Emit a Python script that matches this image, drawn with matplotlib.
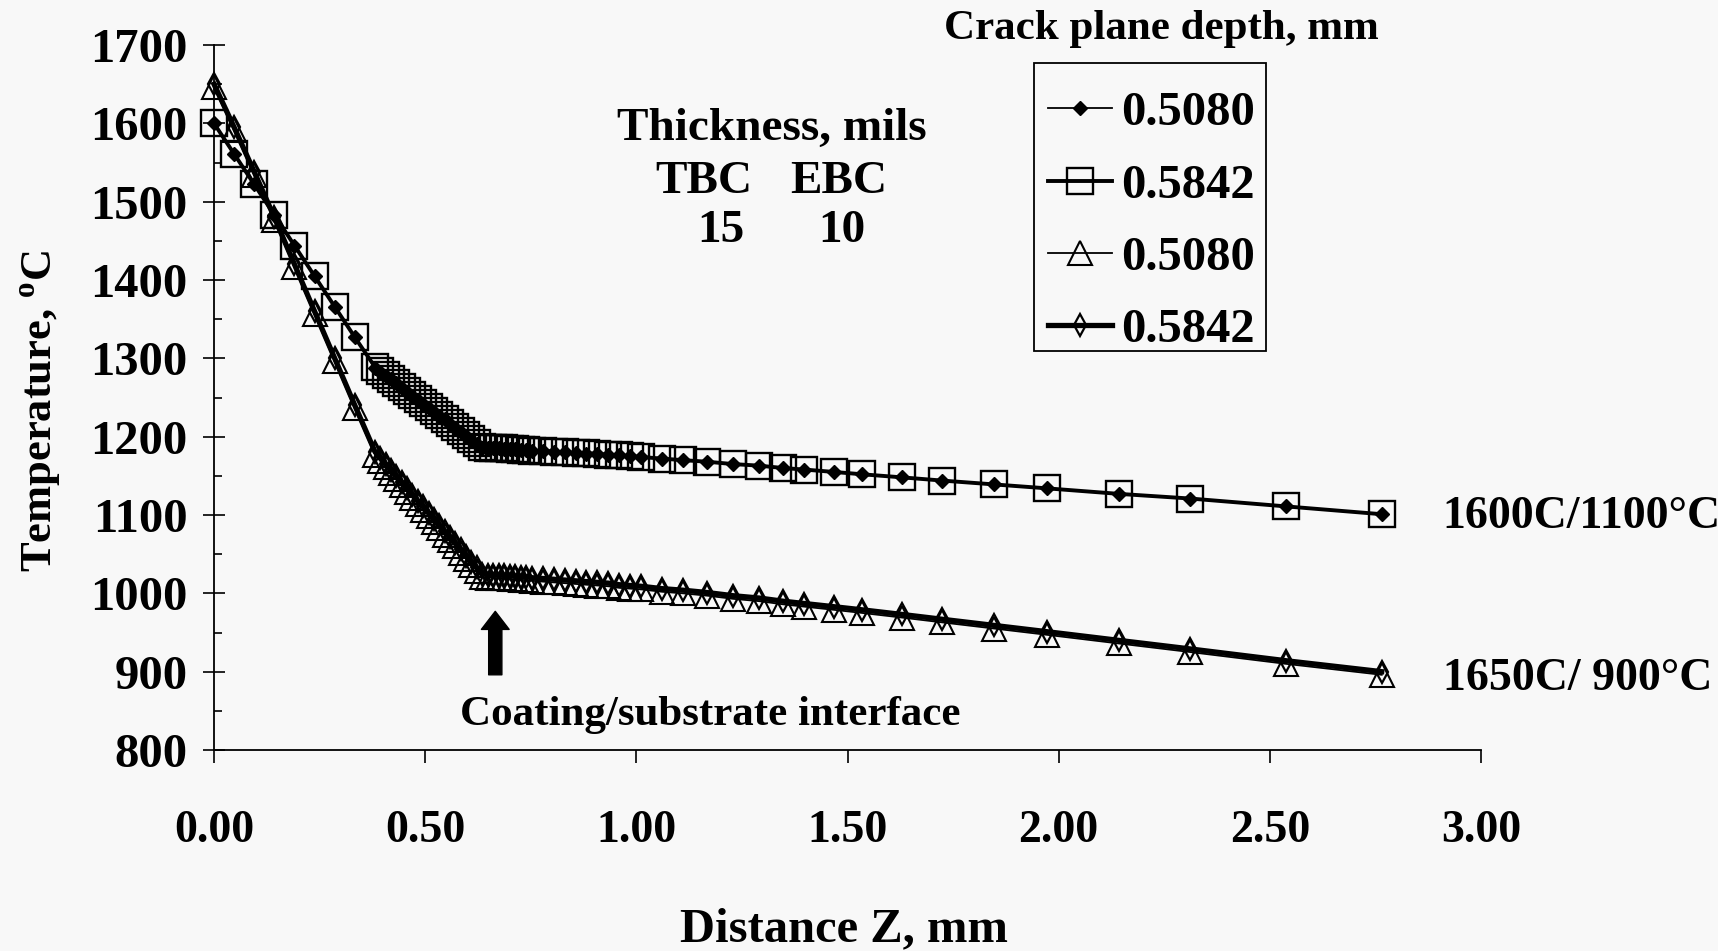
import numpy as np
import matplotlib.pyplot as plt
from matplotlib.patches import Rectangle
from matplotlib.ticker import MultipleLocator, FormatStrFormatter

plt.rcParams['font.family'] = ['Liberation Serif', 'DejaVu Serif']
plt.rcParams['font.weight'] = 'bold'
plt.rcParams['mathtext.fontset'] = 'custom'
plt.rcParams['mathtext.rm'] = 'Liberation Serif:bold'

# distance from the hot surface, mm (TBC layer, EBC layer, substrate)
z_tbc = [0.0, 0.0476, 0.0953, 0.1429, 0.1905, 0.2381, 0.2858, 0.3334, 0.381]
z_ebc = [0.3937, 0.4064, 0.4191, 0.4318, 0.4445, 0.4572, 0.4699, 0.4826, 0.4953, 0.508,
         0.5207, 0.5334, 0.5461, 0.5588, 0.5715, 0.5842, 0.5969, 0.6096, 0.6223, 0.635]
z_sub = [0.648, 0.661, 0.674, 0.687, 0.700, 0.713, 0.726, 0.739, 0.752,
         0.778, 0.804, 0.830, 0.856, 0.882, 0.908, 0.934, 0.960, 0.986, 1.012,
         1.061, 1.111, 1.168, 1.229, 1.291, 1.347, 1.398, 1.467, 1.534, 1.630,
         1.723, 1.848, 1.973, 2.142, 2.312, 2.538, 2.765]
z_mm = z_tbc + z_ebc + z_sub

# 1600C / 1100C case
temp_a = [1600, 1561, 1522, 1483, 1444, 1405, 1366, 1327, 1288,
          1283, 1278, 1273, 1268, 1262, 1257, 1252, 1247, 1242, 1237,
          1232, 1227, 1222, 1216, 1211, 1206, 1201, 1196, 1191, 1186,
          1186, 1185, 1185, 1184, 1184, 1184, 1183, 1183, 1182,
          1182, 1181, 1180, 1179, 1178, 1178, 1177, 1176, 1175, 1174,
          1172, 1170, 1168, 1165, 1163, 1160, 1158, 1155, 1152, 1148,
          1144, 1139, 1134, 1127, 1121, 1111, 1101]
temp_b = [1600, 1561, 1522, 1483, 1444, 1405, 1366, 1327, 1289,
          1284, 1279, 1274, 1268, 1263, 1258, 1253, 1248, 1243, 1238,
          1233, 1228, 1222, 1217, 1212, 1207, 1202, 1197, 1192, 1187,
          1186, 1186, 1185, 1185, 1184, 1184, 1183, 1183, 1182,
          1182, 1181, 1180, 1179, 1179, 1178, 1177, 1176, 1175, 1174,
          1172, 1170, 1168, 1165, 1163, 1160, 1158, 1155, 1152, 1148,
          1144, 1139, 1134, 1127, 1121, 1111, 1101]

# 1650C / 900C case
temp_c = [1646, 1591, 1534, 1476, 1416, 1356, 1296, 1236, 1177,
          1169, 1161, 1154, 1146, 1138, 1130, 1122, 1114, 1107, 1099,
          1091, 1083, 1075, 1068, 1060, 1052, 1044, 1036, 1029, 1021,
          1020, 1020, 1019, 1019, 1018, 1018, 1017, 1017, 1016,
          1015, 1014, 1013, 1012, 1011, 1010, 1009, 1007, 1006, 1005,
          1002, 1000, 997, 993, 990, 986, 983, 979, 975, 969,
          963, 955, 947, 936, 925, 910, 896]
temp_d = [1650, 1595, 1538, 1480, 1420, 1360, 1300, 1240, 1181,
          1173, 1165, 1158, 1150, 1142, 1134, 1126, 1118, 1111, 1103,
          1095, 1087, 1079, 1072, 1064, 1056, 1048, 1040, 1033, 1025,
          1024, 1024, 1023, 1023, 1022, 1022, 1021, 1021, 1020,
          1019, 1018, 1017, 1016, 1015, 1014, 1013, 1011, 1010, 1009,
          1006, 1004, 1001, 997, 994, 990, 987, 983, 979, 973,
          967, 959, 951, 940, 929, 914, 900]

depth_labels = ['0.5080', '0.5842', '0.5080', '0.5842']
x_ticks = [0.0, 0.5, 1.0, 1.5, 2.0, 2.5, 3.0]

W, H = 1718, 951
bg = '#f8f8f8'


def fpos(x, y):
    # pixel position (top-left origin) -> figure fraction
    return x / W, 1 - y / H


fig = plt.figure(figsize=(W / 100, H / 100), dpi=100, facecolor=bg)
ax = fig.add_axes([214 / W, 1 - 750 / H, 1267 / W, 705 / H], facecolor=bg)

l_b, = ax.plot(z_mm, temp_b, color='k', lw=2.8, marker='s', ms=18.5, mfc='none',
               mec='k', mew=1.7, clip_on=False, zorder=3)
l_a, = ax.plot(z_mm, temp_a, color='k', lw=1.3, marker='D', ms=7, mfc='k',
               mec='k', clip_on=False, zorder=4)
l_c, = ax.plot(z_mm, temp_c, color='k', lw=1.3, marker='^', ms=17.5, mfc='none',
               mec='k', mew=1.5, clip_on=False, zorder=3)
l_d, = ax.plot(z_mm, temp_d, color='k', lw=3.8, marker='d', ms=11, mfc='none',
               mec='k', mew=1.6, clip_on=False, zorder=4)

ax.set_xlim(0, 3)
ax.set_ylim(800, 1700)
ax.set_xticks(x_ticks)
ax.xaxis.set_major_formatter(FormatStrFormatter('%.2f'))
ax.yaxis.set_major_locator(MultipleLocator(100))
ax.yaxis.set_minor_locator(MultipleLocator(50))
ax.tick_params(axis='x', direction='out', length=9, width=1.2, pad=34, labelsize=33)
ax.tick_params(axis='y', which='major', direction='inout', length=16, width=1.2,
               pad=11, labelsize=35)
ax.tick_params(axis='y', which='minor', direction='in', length=6, width=1.2)
for side in ['top', 'right']:
    ax.spines[side].set_visible(False)
for side in ['left', 'bottom']:
    ax.spines[side].set_linewidth(1.3)

# legend entries without frame, box drawn separately, title above the box
leg = ax.legend([l_a, l_b, l_c, l_d], depth_labels, loc='upper left',
                bbox_to_anchor=fpos(1029, 72), bbox_transform=fig.transFigure,
                frameon=False, fontsize=35, handlelength=1.3, handletextpad=0.2,
                borderpad=0.4, labelspacing=0.58, borderaxespad=0, numpoints=1)
box_x0, box_y0 = fpos(1034, 351)
fig.add_artist(Rectangle((box_x0, box_y0), 232 / W, 288 / H, transform=fig.transFigure,
                         fill=False, edgecolor='k', lw=1.3))
fig.text(*fpos(1161, 39), 'Crack plane depth, mm', ha='center', va='baseline', fontsize=31)

fig.text(*fpos(772, 140), 'Thickness, mils', ha='center', va='baseline', fontsize=34)
fig.text(*fpos(704, 193), 'TBC', ha='center', va='baseline', fontsize=34)
fig.text(*fpos(839, 193), 'EBC', ha='center', va='baseline', fontsize=34)
fig.text(*fpos(721, 242), '15', ha='center', va='baseline', fontsize=34)
fig.text(*fpos(842, 242), '10', ha='center', va='baseline', fontsize=34)

fig.text(*fpos(1442, 528), '1600C/1100°C', ha='left', va='baseline', fontsize=33)
fig.text(*fpos(1443, 690), '1650C/ 900°C', ha='left', va='baseline', fontsize=33)

ax.annotate('', xy=(0.666, 977), xytext=(0.666, 896),
            arrowprops=dict(arrowstyle='simple,head_length=1.3,head_width=2.0,tail_width=0.95',
                            mutation_scale=10, color='k', shrinkA=0, shrinkB=0))
fig.text(*fpos(710, 725), 'Coating/substrate interface', ha='center', va='baseline', fontsize=31)

fig.text(*fpos(41, 411), 'Temperature, $^{\\rm o}$C', rotation=90, ha='center',
         va='center', fontsize=32)
fig.text(*fpos(844, 941), 'Distance Z, mm', ha='center', va='baseline', fontsize=35)

fig.savefig('out.png', dpi=100, facecolor=bg)
